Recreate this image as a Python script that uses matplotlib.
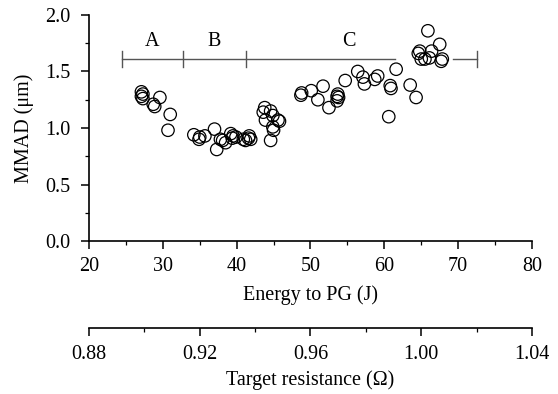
import matplotlib
matplotlib.use("Agg")
import matplotlib.pyplot as plt
from matplotlib.ticker import MultipleLocator

plt.rcParams['font.family'] = ['Liberation Serif', 'DejaVu Serif']

energy = [27.1, 27.3, 27.1, 27.3, 29.6, 28.7, 28.9, 31.0, 30.7,
          34.2, 34.9, 35.0, 35.7, 37.0, 37.3, 37.8, 38.1, 38.5, 39.2, 39.5, 39.4, 39.9,
          40.9, 41.2, 41.7, 41.9, 41.6,
          43.8, 43.6, 44.6, 43.9, 44.9, 45.6, 45.8, 44.9, 45.0, 44.6,
          48.8, 48.7, 50.1, 51.7, 51.0, 52.5, 53.7, 53.6, 53.8, 53.6, 54.7,
          56.4, 57.1, 57.3, 58.7, 59.1, 60.8, 60.9, 60.6, 61.6, 63.5, 64.3,
          65.9, 67.5, 64.8, 64.6, 65.0, 65.5, 66.1, 66.4, 67.85, 67.7]
mmad = [1.32, 1.30, 1.28, 1.26, 1.27, 1.21, 1.19, 1.12, 0.98,
        0.94, 0.90, 0.92, 0.93, 0.99, 0.81, 0.90, 0.89, 0.87, 0.95, 0.93, 0.91, 0.92,
        0.90, 0.89, 0.93, 0.90, 0.91,
        1.18, 1.14, 1.15, 1.07, 1.11, 1.07, 1.06, 1.01, 0.98, 0.89,
        1.31, 1.29, 1.33, 1.37, 1.25, 1.18, 1.30, 1.28, 1.27, 1.24, 1.42,
        1.50, 1.45, 1.39, 1.43, 1.46, 1.375, 1.35, 1.10, 1.52, 1.38, 1.27,
        1.86, 1.74, 1.68, 1.66, 1.61, 1.61, 1.62, 1.68, 1.61, 1.59]

x_ticks = [20, 30, 40, 50, 60, 70, 80]
y_ticks = [0.0, 0.5, 1.0, 1.5, 2.0]
r_ticks = [0.88, 0.92, 0.96, 1.00, 1.04]

# region brackets (energy boundaries) and labels
bracket_edges = [24.5, 32.7, 41.2, 72.6]
bracket_gap = (61.4, 69.3)
bracket_y = 1.61
region_labels = ["A", "B", "C"]
region_label_x = [28.6, 37.0, 55.2]

FS = 14.5

fig = plt.figure(figsize=(5.58, 3.94), dpi=100)
ax = fig.add_axes([0.1595, 0.3883, 0.7939, 0.5737])
ax.scatter(energy, mmad, s=80, facecolors='none', edgecolors='black', linewidths=0.9, zorder=3)

ax.set_xlim(20, 80)
ax.set_ylim(0, 2.0)
ax.set_xticks(x_ticks)
ax.set_yticks(y_ticks)
ax.set_yticklabels([f"{v:.1f}" for v in y_ticks])
ax.xaxis.set_minor_locator(MultipleLocator(5))
ax.yaxis.set_minor_locator(MultipleLocator(0.25))
for s in ['top', 'right']:
    ax.spines[s].set_visible(False)
for s in ['left', 'bottom']:
    ax.spines[s].set_linewidth(1.2)
ax.tick_params(which='major', direction='out', length=5.5, width=1.1, labelsize=FS)
ax.tick_params(axis='y', which='major', pad=8)
ax.tick_params(axis='x', which='major', pad=6)
ax.tick_params(which='minor', direction='out', length=3, width=0.9)
ax.set_xlabel("Energy to PG (J)", fontsize=FS, labelpad=7)
ax.set_ylabel("MMAD (μm)", fontsize=FS, labelpad=8)

gray = '#555555'
ax.plot([bracket_edges[0], bracket_gap[0]], [bracket_y, bracket_y], color=gray, lw=1.0, zorder=1)
ax.plot([bracket_gap[1], bracket_edges[-1]], [bracket_y, bracket_y], color=gray, lw=1.0, zorder=1)
for e in bracket_edges:
    ax.plot([e, e], [bracket_y - 0.07, bracket_y + 0.07], color=gray, lw=1.0, zorder=1)
for lab, lx in zip(region_labels, region_label_x):
    ax.text(lx, 1.685, lab, ha='center', va='bottom', fontsize=FS)

ax2 = fig.add_axes([0.1595, 0.1675, 0.7939, 0.001])
ax2.set_xlim(0.88, 1.04)
ax2.set_xticks(r_ticks)
ax2.set_xticklabels([f"{v:.2f}" for v in r_ticks])
ax2.xaxis.set_minor_locator(MultipleLocator(0.02))
ax2.set_yticks([])
for s in ['top', 'right', 'left']:
    ax2.spines[s].set_visible(False)
ax2.spines['bottom'].set_linewidth(1.2)
ax2.patch.set_visible(False)
ax2.tick_params(which='major', direction='out', length=5.5, width=1.1, labelsize=FS, pad=7)
ax2.tick_params(which='minor', direction='out', length=3, width=0.9)
ax2.set_xlabel("Target resistance (Ω)", fontsize=FS, labelpad=4)

fig.savefig("out.png", dpi=100)
